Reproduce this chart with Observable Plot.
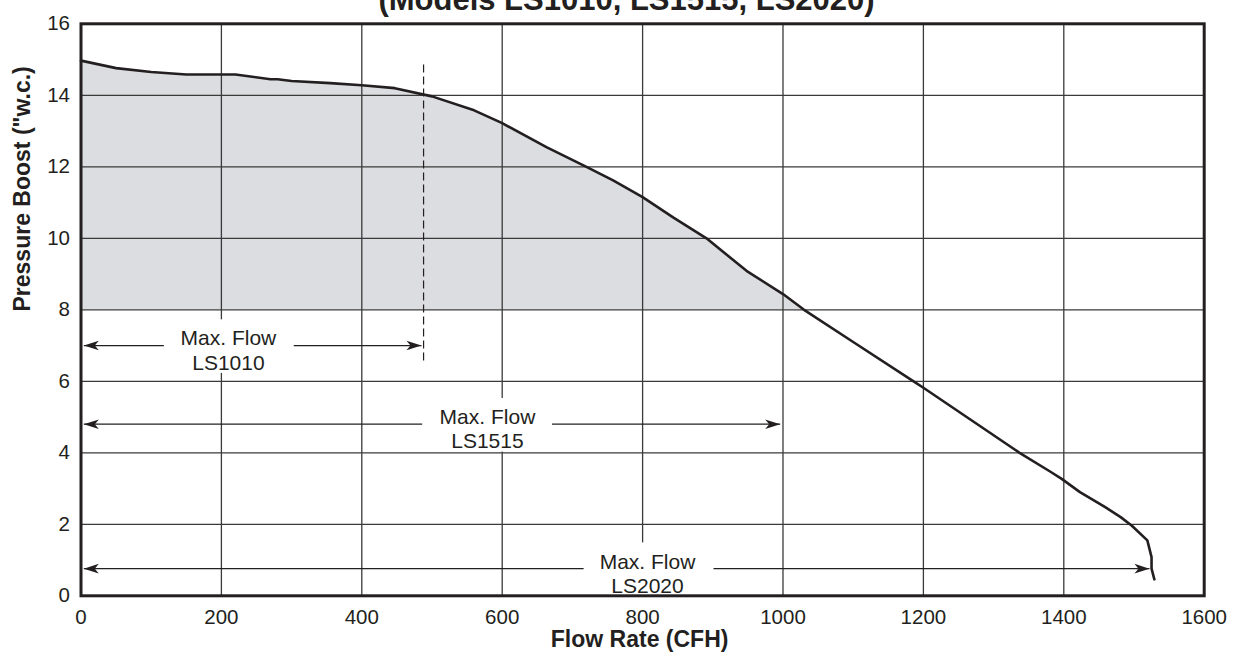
<!DOCTYPE html>
<html>
<head>
<meta charset="utf-8">
<script src="https://cdn.jsdelivr.net/npm/d3@7"></script>
<script src="https://cdn.jsdelivr.net/npm/@observablehq/plot@0.6"></script>
<style>
  html, body { margin: 0; padding: 0; background: #fff; overflow: hidden; }
  #wrap { position: relative; width: 1238px; height: 658px; }
  #title { position: absolute; left: 15px; width: 1223px; top: -15.6px; text-align: center;
    font: bold 31px "Liberation Sans", Arial, sans-serif; line-height: 31px; color: #231f20; white-space: nowrap; }
  #chart { position: absolute; left: 0; top: 0; }
</style>
</head>
<body>
<div id="wrap">
  <div id="chart"></div>
  <div id="title">(Models LS1010, LS1515, LS2020)</div>
</div>
<script>
// ---- data ----
const flow  = [0, 50, 100, 150, 220, 270, 280, 300, 355, 400, 447, 500, 560, 600, 663, 720, 758, 800, 844, 891, 948, 1000, 1030, 1100, 1186, 1200, 1337, 1381, 1397, 1423, 1459, 1481, 1497, 1519, 1525, 1525, 1529];
const boost = [14.97, 14.76, 14.65, 14.58, 14.58, 14.45, 14.45, 14.40, 14.34, 14.28, 14.20, 13.97, 13.58, 13.22, 12.55, 12.0, 11.62, 11.15, 10.58, 10.0, 9.09, 8.44, 8.0, 7.1, 6.0, 5.82, 4.0, 3.47, 3.27, 2.9, 2.48, 2.2, 1.96, 1.55, 1.08, 0.76, 0.46];

const shadeFloor = 8;

const xTicks = [0, 200, 400, 600, 800, 1000, 1200, 1400, 1600];
const yTicks = [0, 2, 4, 6, 8, 10, 12, 14, 16];
const xGrid = [200, 400, 600, 800, 1000, 1200, 1400];
const yGrid = [2, 4, 6, 8, 10, 12, 14];

// LS1010 limit (dashed)
const dashX = [488];
const dashFrom = [6.57];
const dashTo = [14.9];

// "Max. Flow" annotations
const models = ["LS1010", "LS1515", "LS2020"];
const arrowLevel = [7.0, 4.8, 0.76];
const arrowStart = [4, 4, 4];
const arrowTip = [485, 996, 1522];
const gapFrom = [118, 486, 716];
const gapTo = [303, 671, 901];
const labelX = [210, 579, 807];

const xLabel = "Flow Rate (CFH)";
const yLabel = "Pressure Boost (\"w.c.)";

// ---- tables built from the arrays ----
const curve = flow.map((f, i) => ({flow: f, boost: boost[i]}));
const shaded = curve.filter(d => d.boost >= shadeFloor && d.flow <= 1030);
const notes = models.map((m, i) => ({
  model: m, y: arrowLevel[i], start: arrowStart[i], tip: arrowTip[i],
  g1: gapFrom[i], g2: gapTo[i], lx: labelX[i]
}));
const arrowSegs = notes.flatMap(d => [
  {x1: d.g1, x2: d.start, y: d.y},
  {x1: d.g2, x2: d.tip, y: d.y}
]);
const dash = dashX.map((x, i) => ({x, y1: dashFrom[i], y2: dashTo[i]}));

const ink = "#231f20";
const font = "'Liberation Sans', Arial, Helvetica, sans-serif";

const chart = Plot.plot({
  width: 1238,
  height: 658,
  marginLeft: 80.5,
  marginRight: 34.3,
  marginTop: 23.3,
  marginBottom: 62.7,
  style: {fontFamily: font, fontSize: "20.5px", color: ink, background: "white", overflow: "visible"},
  x: {domain: [0, 1600], ticks: xTicks, tickFormat: "d", tickSize: 0, tickPadding: 14, label: null},
  y: {domain: [0, 16], ticks: yTicks, tickFormat: "d", tickSize: 0, tickPadding: 11, label: null},
  marks: [
    Plot.areaY(shaded, {x: "flow", y1: () => shadeFloor, y2: "boost", fill: "#dcdde0"}),
    Plot.ruleX(xGrid, {stroke: "#3a3a3a", strokeWidth: 1.3}),
    Plot.ruleY(yGrid, {stroke: "#3a3a3a", strokeWidth: 1.3}),
    Plot.rect(notes, {x1: "g1", x2: "g2", y1: d => d.y - 0.78, y2: d => d.y + 0.72, fill: "white"}),
    Plot.frame({stroke: ink, strokeWidth: 3}),
    Plot.ruleX(dash, {x: "x", y1: "y1", y2: "y2", stroke: ink, strokeWidth: 1.2, strokeDasharray: "8,4"}),
    Plot.line(curve, {x: "flow", y: "boost", stroke: ink, strokeWidth: 2.6, strokeLinejoin: "round"}),
    Plot.link(arrowSegs, {x1: "x1", x2: "x2", y1: "y", y2: "y", stroke: ink, strokeWidth: 1.2, markerEnd: "arrow"}),
    Plot.text(notes, {x: "lx", y: d => d.y - 0.12, text: d => "Max. Flow\n" + d.model,
      fontSize: 21, lineHeight: 1.15, fill: ink}),
    Plot.text([xLabel], {text: d => d, frameAnchor: "bottom", dy: 51.4, dx: -3,
      fontSize: 23, fontWeight: "bold", fill: ink}),
    Plot.text([yLabel], {text: d => d, frameAnchor: "left", rotate: -90, dx: -58, dy: 1.7,
      fontSize: 23, fontWeight: "bold", fill: ink})
  ]
});

// filled, barbed arrowheads like the reference
chart.querySelectorAll("marker").forEach(m => {
  m.setAttribute("viewBox", "-17 -6 18 12");
  m.setAttribute("markerWidth", "18");
  m.setAttribute("markerHeight", "12");
  m.setAttribute("markerUnits", "userSpaceOnUse");
  m.setAttribute("fill", ink);
  m.setAttribute("stroke", "none");
  const p = m.querySelector("path");
  if (p) p.setAttribute("d", "M0,0L-15,-4.8L-11,0L-15,4.8Z");
});

document.getElementById("chart").appendChild(chart);
</script>
</body>
</html>
